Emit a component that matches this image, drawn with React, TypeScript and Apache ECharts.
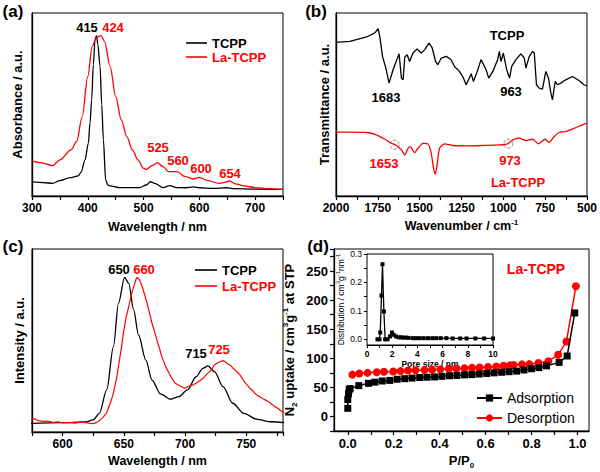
import { useEffect, useRef } from "react";
import * as echarts from "echarts";

const FONT = "'Liberation Sans', Arial, sans-serif";
const RED = "#ff0000";

// (a) UV-vis absorbance (wavelength nm, normalized absorbance)
const uvTCPP: [number, number][] = [
  [300, 0.078], [320, 0.073], [337, 0.069], [350, 0.084], [368, 0.1], [383, 0.11], [388, 0.13],
  [395, 0.197], [401, 0.288], [404, 0.4], [407, 0.526], [410, 0.72], [413, 0.854], [415.5, 0.876],
  [418, 0.83], [422, 0.708], [425, 0.5], [428, 0.307], [432, 0.088], [436, 0.06], [440, 0.055],
  [458, 0.046], [493, 0.046], [505, 0.06], [512, 0.078], [520, 0.069], [535, 0.046], [547, 0.057],
  [559, 0.046], [575, 0.045], [589, 0.05], [600, 0.045], [625, 0.042], [649, 0.045], [660, 0.04],
  [700, 0.038], [750, 0.036],
];
const uvLaTCPP: [number, number][] = [
  [300, 0.192], [315, 0.182], [337, 0.166], [350, 0.197], [370, 0.252], [380, 0.297], [390, 0.434],
  [400, 0.653], [408, 0.818], [415, 0.863], [420, 0.874], [424, 0.876], [430, 0.845], [440, 0.708],
  [450, 0.544], [460, 0.416], [470, 0.325], [480, 0.252], [490, 0.197], [500, 0.151], [505, 0.146],
  [515, 0.166], [525, 0.182], [535, 0.16], [545, 0.133], [560, 0.133], [575, 0.106], [590, 0.093],
  [600, 0.102], [615, 0.084], [635, 0.069], [645, 0.075], [654, 0.082], [665, 0.066], [680, 0.055],
  [700, 0.046], [725, 0.04], [750, 0.036],
];

// (b) FT-IR transmittance (wavenumber cm-1, normalized)
const irTCPP: [number, number][] = [
  [2000, 0.839], [1917, 0.845], [1817, 0.869], [1768, 0.891], [1748, 0.914], [1738, 0.87], [1722, 0.763],
  [1702, 0.699], [1683, 0.617], [1659, 0.69], [1623, 0.777], [1609, 0.644], [1599, 0.635], [1589, 0.759],
  [1575, 0.772], [1560, 0.735], [1540, 0.781], [1516, 0.803], [1490, 0.781], [1470, 0.8], [1444, 0.836],
  [1425, 0.81], [1405, 0.735], [1391, 0.717], [1371, 0.754], [1341, 0.763], [1312, 0.745], [1292, 0.708],
  [1262, 0.681], [1238, 0.644], [1222, 0.608], [1208, 0.635], [1192, 0.668], [1179, 0.626], [1159, 0.672],
  [1133, 0.745], [1103, 0.69], [1087, 0.644], [1063, 0.681], [1034, 0.745], [1024, 0.79], [1014, 0.735],
  [1000, 0.781], [980, 0.69], [963, 0.644], [950, 0.708], [925, 0.745], [895, 0.777], [875, 0.754],
  [865, 0.699], [845, 0.763], [825, 0.79], [815, 0.781], [802, 0.608], [786, 0.589], [766, 0.584],
  [746, 0.681], [730, 0.644], [716, 0.562], [706, 0.526], [690, 0.626], [677, 0.608], [657, 0.617],
  [627, 0.635], [587, 0.653], [548, 0.631], [518, 0.608], [500, 0.602],
];
const irLaTCPP: [number, number][] = [
  [2000, 0.349], [1917, 0.349], [1817, 0.347], [1758, 0.334], [1708, 0.31], [1669, 0.288], [1639, 0.276],
  [1609, 0.252], [1589, 0.224], [1569, 0.261], [1556, 0.27], [1530, 0.237], [1510, 0.261], [1480, 0.288],
  [1450, 0.285], [1431, 0.234], [1417, 0.151], [1407, 0.12], [1397, 0.161], [1381, 0.261], [1351, 0.285],
  [1302, 0.276], [1222, 0.274], [1123, 0.276], [1024, 0.279], [974, 0.285], [944, 0.307], [905, 0.316],
  [865, 0.303], [825, 0.31], [790, 0.285], [750, 0.31], [726, 0.292], [696, 0.325], [667, 0.347],
  [627, 0.352], [577, 0.37], [528, 0.389], [500, 0.398],
];
const irMarked: [number, number][] = [[1650, 0.28], [970, 0.286]];

// (c) photoluminescence (wavelength nm, normalized intensity)
const plTCPP: [number, number][] = [
  [571, 0.047], [599, 0.051], [619, 0.055], [625, 0.066], [630, 0.102], [636, 0.23], [641.5, 0.466],
  [645.6, 0.703], [650.6, 0.845], [654, 0.812], [658, 0.667], [662, 0.53], [668, 0.393], [673, 0.284],
  [680, 0.208], [688, 0.179], [695, 0.193], [702, 0.23], [709, 0.302], [714.6, 0.348], [718.7, 0.361],
  [724, 0.33], [731, 0.248], [739, 0.157], [748, 0.102], [759, 0.069], [770, 0.056], [781, 0.051],
];
const plLaTCPP: [number, number][] = [
  [571, 0.075], [574, 0.068], [577, 0.072], [580, 0.062], [584, 0.058], [588, 0.06], [592, 0.052],
  [596, 0.055], [600, 0.05], [605, 0.053], [610, 0.049], [615, 0.054], [620, 0.05], [624, 0.046],
  [627, 0.05], [630, 0.062], [633, 0.08], [636, 0.105], [639, 0.16], [641, 0.2], [644, 0.29], [646, 0.375],
  [648, 0.46], [650, 0.557], [652, 0.63], [654, 0.685], [656, 0.745], [658, 0.794], [660, 0.835],
  [661, 0.845], [663, 0.83], [665, 0.794], [667, 0.75], [669, 0.703], [671, 0.65], [673, 0.594],
  [675, 0.55], [677, 0.503], [679, 0.46], [681, 0.412], [684, 0.36], [687, 0.321], [690, 0.285],
  [692, 0.266], [695, 0.255], [698, 0.244], [700, 0.239], [703, 0.25], [706, 0.256], [709, 0.266],
  [712, 0.28], [715, 0.295], [717, 0.311], [720, 0.33], [722, 0.345], [724, 0.366], [727, 0.38],
  [729, 0.385], [731, 0.39], [733, 0.382], [735, 0.372], [737, 0.366], [739, 0.35], [741, 0.338],
  [743, 0.325], [745, 0.311], [747, 0.29], [749, 0.27], [751, 0.255], [753, 0.239], [755, 0.228],
  [757, 0.212], [759, 0.2], [761, 0.193], [764, 0.18], [767, 0.17], [770, 0.157], [773, 0.14],
  [776, 0.128], [779, 0.112], [781, 0.106],
];

// (d) N2 isotherm (P/P0, uptake cm3/g)
const adsorption: [number, number][] = [
  [0.0, 14], [0.0, 29], [0.003, 39], [0.006, 46], [0.01, 48], [0.048, 53], [0.09, 57], [0.118, 59],
  [0.15, 61], [0.183, 62], [0.215, 64], [0.248, 65], [0.28, 66], [0.313, 67], [0.345, 67.5], [0.378, 68],
  [0.41, 69], [0.443, 70], [0.475, 70.5], [0.508, 71.5], [0.54, 72], [0.572, 73], [0.605, 74],
  [0.637, 75], [0.67, 76], [0.702, 77], [0.735, 78], [0.767, 80], [0.8, 82], [0.832, 84], [0.865, 87],
  [0.92, 93], [0.955, 104], [0.988, 178],
];
const desorption: [number, number][] = [
  [0.02, 72], [0.05, 74], [0.086, 75], [0.126, 76], [0.158, 77], [0.198, 77.4], [0.23, 78],
  [0.262, 79], [0.295, 79.5], [0.334, 80], [0.367, 80.6], [0.403, 81], [0.44, 82], [0.473, 82.5],
  [0.508, 83], [0.541, 83.7], [0.574, 84.3], [0.61, 85], [0.646, 86], [0.678, 87.3], [0.707, 88],
  [0.722, 88.5], [0.758, 89.6], [0.79, 90], [0.83, 92], [0.873, 95], [0.916, 106], [0.952, 129],
  [0.993, 224],
];
// (d) inset: pore size distribution (nm, cm3 g-1 nm-1)
const poreDist: [number, number][] = [
  [0.83, 0.0], [0.99, 0.0], [1.05, 0.024], [1.15, 0.154], [1.23, 0.264], [1.34, 0.098], [1.44, 0.0],
  [1.63, 0.0], [1.82, 0.01], [1.98, 0.024], [2.11, 0.016], [2.3, 0.01], [2.51, 0.007], [2.7, 0.007],
  [2.89, 0.006], [3.1, 0.006], [3.3, 0.005], [3.64, 0.004], [3.9, 0.004], [4.17, 0.004], [4.49, 0.004],
  [4.84, 0.004], [5.19, 0.004], [5.5, 0.004], [5.85, 0.004], [6.3, 0.004], [6.8, 0.003], [7.4, 0.003],
  [7.9, 0.003], [8.6, 0.003], [9.3, 0.003], [10.0, 0.003],
];

const isoXLabels = [0, 0.2, 0.4, 0.6, 0.8, 1.0];
const isoXTicks = [0, 0.1, 0.2, 0.3, 0.4, 0.5, 0.6, 0.7, 0.8, 0.9, 1.0];
const insetYLabels = [0, 0.1, 0.2, 0.3];
const insetYTicks = [0, 0.05, 0.1, 0.15, 0.2, 0.25, 0.3];

const bold = (size: number) => ({ fontFamily: FONT, fontWeight: "bold" as const, fontSize: size, color: "#000" });

const axisLine = { show: true, onZero: false, lineStyle: { color: "#000", width: 1.3 } };
const thinAxisLine = { show: true, onZero: false, lineStyle: { color: "#000", width: 1 } };
const tickStyle = { show: true, inside: false, length: 4, lineStyle: { color: "#000", width: 1.2 } };

function hiddenY(gridIndex: number, min: number, max: number) {
  return {
    type: "value", gridIndex, min, max,
    axisLine, axisTick: { show: false }, axisLabel: { show: false }, splitLine: { show: false },
  };
}

function supRich(base: number, small: number, weight: "bold" | "normal") {
  return {
    t: { fontFamily: FONT, fontWeight: weight, fontSize: base, color: "#000", lineHeight: base + 4 },
    s: { fontFamily: FONT, fontWeight: weight, fontSize: small, color: "#000", verticalAlign: "top", lineHeight: base + 4 },
    b: { fontFamily: FONT, fontWeight: weight, fontSize: small, color: "#000", verticalAlign: "bottom", lineHeight: base + 4 },
  };
}

function txt(text: string, x: number, y: number, color: string, size = 13) {
  return {
    type: "text", x, y, silent: true,
    style: { text, fill: color, fontFamily: FONT, fontWeight: "bold", fontSize: size, align: "center", verticalAlign: "middle" },
  };
}

export default function App() {
  const ref = useRef<HTMLDivElement>(null);
  useEffect(() => {
    if (!ref.current) return;
    const chart = echarts.init(ref.current, null, { renderer: "svg" });
    const gridBase = { show: true, borderColor: "#000", borderWidth: 1, containLabel: false };
    const option: any = {
      animation: false,
      backgroundColor: "#fff",
      grid: [
        { ...gridBase, left: 32, right: 317, top: 13, bottom: 276 },
        { ...gridBase, left: 336, right: 12, top: 13, bottom: 276 },
        { ...gridBase, left: 32, right: 317, top: 249, bottom: 40 },
        { ...gridBase, left: 334, right: 11, top: 249, bottom: 41 },
        { ...gridBase, left: 367, right: 107, top: 254, bottom: 127, backgroundColor: "#fff", z: 5 },
      ],
      xAxis: [
        {
          type: "value", gridIndex: 0, min: 300, max: 750, interval: 50,
          axisLine, axisTick: tickStyle, splitLine: { show: false },
          axisLabel: { ...bold(12), margin: 6, formatter: (v: number) => (v % 100 === 0 ? String(v) : "") },
          name: "Wavelength / nm", nameLocation: "middle", nameGap: 24, nameTextStyle: bold(12.5),
        },
        {
          type: "value", gridIndex: 1, min: 500, max: 2000, interval: 125, inverse: true,
          axisLine, axisTick: tickStyle, splitLine: { show: false },
          axisLabel: { ...bold(12), margin: 6, formatter: (v: number) => (v % 250 === 0 ? String(v) : "") },
          name: "{t|Wavenumber / cm}{s|-1}", nameLocation: "middle", nameGap: 22,
          nameTextStyle: { rich: supRich(12.5, 8, "bold") },
        },
        {
          type: "value", gridIndex: 2, min: 575, max: 780, interval: 25,
          axisLine, axisTick: tickStyle, splitLine: { show: false },
          axisLabel: { ...bold(12), margin: 6, formatter: (v: number) => (v % 50 === 0 ? String(v) : "") },
          name: "Wavelength / nm", nameLocation: "middle", nameGap: 22, nameTextStyle: bold(12.5),
        },
        {
          type: "value", gridIndex: 3, min: -0.06, max: 1.05,
          axisLine, splitLine: { show: false },
          axisTick: { ...tickStyle, customValues: isoXTicks },
          axisLabel: { ...bold(13), margin: 6, customValues: isoXLabels, formatter: (v: number) => v.toFixed(1) },
          name: "{t|P/P}{b|0}", nameLocation: "middle", nameGap: 21,
          nameTextStyle: { rich: supRich(13, 8, "bold") },
        },
        {
          type: "value", gridIndex: 4, min: 0, max: 10, interval: 1,
          axisLine: thinAxisLine,
          axisTick: { show: true, length: 3, lineStyle: { color: "#000" } },
          splitLine: { show: false },
          axisLabel: { ...bold(8.5), margin: 4, formatter: (v: number) => (v % 2 === 0 ? String(v) : "") },
          name: "Pore size / nm", nameLocation: "middle", nameGap: 14, nameTextStyle: bold(8.5),
        },
      ],
      yAxis: [
        { ...hiddenY(0, 0, 1), name: "Absorbance / a.u.", nameLocation: "middle", nameGap: 8, nameTextStyle: bold(13) },
        { ...hiddenY(1, 0, 1), name: "Transmittance / a.u.", nameLocation: "middle", nameGap: 5, nameTextStyle: bold(13) },
        { ...hiddenY(2, 0, 1), name: "Intensity / a.u.", nameLocation: "middle", nameGap: 6, nameTextStyle: bold(13) },
        {
          type: "value", gridIndex: 3, min: -25, max: 288, interval: 25,
          axisLine, axisTick: tickStyle, splitLine: { show: false },
          axisLabel: { ...bold(13), margin: 6, formatter: (v: number) => (v >= 0 && v % 50 === 0 ? String(v) : "") },
          name: "{t|N}{b|2}{t| uptake / cm}{s|3}{t|g}{s|-1}{t| at STP}", nameLocation: "middle", nameGap: 36,
          nameTextStyle: { rich: supRich(13, 8, "bold") },
        },
        {
          type: "value", gridIndex: 4, min: -0.02, max: 0.3,
          axisLine: thinAxisLine,
          axisTick: { show: true, length: 3, customValues: insetYTicks, lineStyle: { color: "#000" } },
          splitLine: { show: false },
          axisLabel: { fontFamily: FONT, fontSize: 8.5, color: "#000", margin: 5, customValues: insetYLabels, formatter: (v: number) => v.toFixed(1) },
          name: "{t|Distribution / cm}{s|3}{t|g}{s|-1}{t|nm}{s|-1}", nameLocation: "middle", nameGap: 20,
          nameTextStyle: { rich: supRich(8.5, 6, "normal") },
        },
      ],
      legend: [
        {
          left: 181, top: 31, orient: "vertical", icon: "rect", itemWidth: 21, itemHeight: 1.6, itemGap: 0, selectedMode: false,
          textStyle: { ...bold(13), lineHeight: 14 },
          data: [{ name: "TCPP" }, { name: "La-TCPP", textStyle: { color: RED } }],
        },
        {
          left: 190, top: 258, orient: "vertical", icon: "rect", itemWidth: 22, itemHeight: 1.6, itemGap: 2, selectedMode: false,
          textStyle: { ...bold(13), lineHeight: 14 },
          data: [{ name: "TCPP" }, { name: "La-TCPP", textStyle: { color: RED } }],
        },
        {
          left: 471, top: 386, orient: "vertical", itemWidth: 25, itemHeight: 9, itemGap: 6, selectedMode: false,
          textStyle: { fontFamily: FONT, fontSize: 14, color: "#000" },
          data: [{ name: "Adsorption" }, { name: "Desorption" }],
        },
      ],
      series: [
        { name: "TCPP", type: "line", xAxisIndex: 0, yAxisIndex: 0, data: uvTCPP, symbol: "none", smooth: 0.3, smoothMonotone: "x", color: "#000", lineStyle: { width: 1.3 } },
        { name: "La-TCPP", type: "line", xAxisIndex: 0, yAxisIndex: 0, data: uvLaTCPP, symbol: "none", smooth: 0.3, smoothMonotone: "x", color: RED, lineStyle: { width: 1.3 } },
        { name: "TCPP", type: "line", xAxisIndex: 1, yAxisIndex: 1, data: irTCPP, symbol: "none", color: "#000", lineStyle: { width: 1.3 } },
        { name: "La-TCPP", type: "line", xAxisIndex: 1, yAxisIndex: 1, data: irLaTCPP, symbol: "none", smooth: 0.2, color: RED, lineStyle: { width: 1.3 } },
        {
          name: "marked", type: "scatter", xAxisIndex: 1, yAxisIndex: 1, data: irMarked, symbol: "circle", symbolSize: 9,
          itemStyle: { color: "rgba(0,0,0,0)", borderColor: "#555", borderWidth: 0.8, borderType: "dashed" }, z: 3,
        },
        { name: "TCPP", type: "line", xAxisIndex: 2, yAxisIndex: 2, data: plTCPP, symbol: "none", smooth: 0.3, smoothMonotone: "x", color: "#000", lineStyle: { width: 1.3 } },
        { name: "La-TCPP", type: "line", xAxisIndex: 2, yAxisIndex: 2, data: plLaTCPP, symbol: "none", color: RED, lineStyle: { width: 1.2 } },
        {
          name: "Adsorption", type: "line", xAxisIndex: 3, yAxisIndex: 3, data: adsorption, symbol: "rect", symbolSize: 7,
          color: "#000", lineStyle: { width: 1.5 }, z: 3,
        },
        {
          name: "Desorption", type: "line", xAxisIndex: 3, yAxisIndex: 3, data: desorption, symbol: "circle", symbolSize: 8,
          color: RED, lineStyle: { width: 1.5 }, z: 2,
        },
        {
          name: "Pore", type: "line", xAxisIndex: 4, yAxisIndex: 4, data: poreDist, symbol: "rect", symbolSize: 4,
          color: "#000", lineStyle: { width: 1.3 }, z: 6,
        },
      ],
      graphic: [
        txt("(a)", 13, 11, "#000", 17),
        txt("(b)", 316, 11, "#000", 17),
        txt("(c)", 13, 246, "#000", 17),
        txt("(d)", 318, 246, "#000", 17),
        txt("415", 87, 27, "#000"),
        txt("424", 113, 27, RED),
        txt("525", 158, 147, RED),
        txt("560", 178, 160, RED),
        txt("600", 201, 168, RED),
        txt("654", 230, 173, RED),
        txt("TCPP", 507, 35, "#000"),
        txt("1683", 386, 97, "#000"),
        txt("963", 511, 91, "#000"),
        txt("1653", 384, 163, RED),
        txt("973", 510, 160, RED),
        txt("La-TCPP", 518, 182, RED),
        txt("650", 119, 269, "#000"),
        txt("660", 144, 269, RED),
        txt("715", 196, 353, "#000"),
        txt("725", 219, 349, RED),
        txt("La-TCPP", 536, 269, RED, 14),
      ],
    };
    chart.setOption(option);
    return () => chart.dispose();
  }, []);
  return <div ref={ref} style={{ position: "fixed", left: 0, top: 0, width: 600, height: 472, background: "#fff" }} />;
}
